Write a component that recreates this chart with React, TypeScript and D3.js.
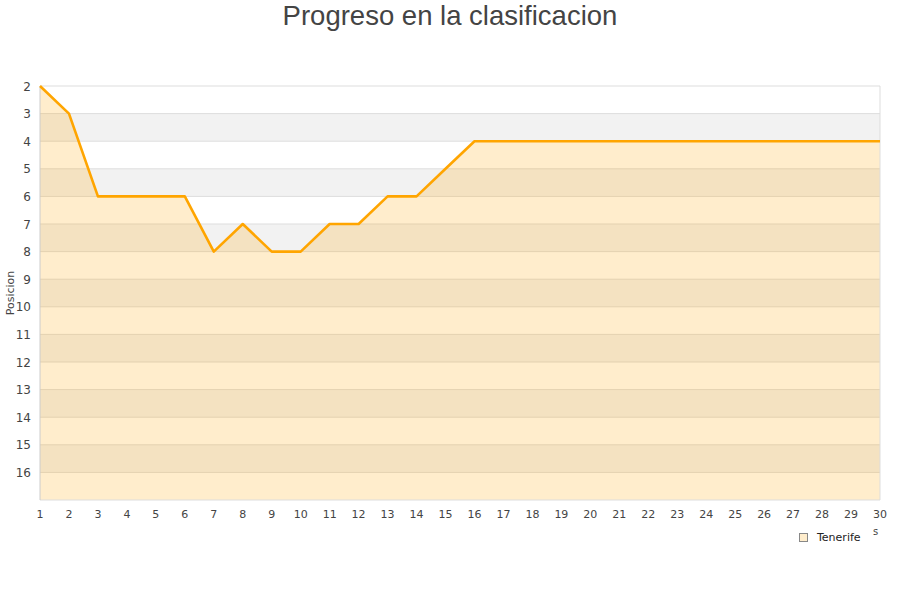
import React from "react";
import * as d3 from "d3";

const jornadas = d3.range(1, 31);
const posiciones = [2, 3, 6, 6, 6, 6, 8, 7, 8, 8, 7, 7, 6, 6, 5, 4, 4, 4, 4, 4, 4, 4, 4, 4, 4, 4, 4, 4, 4, 4];
const yTicks = d3.range(2, 17);
const equipo = "Tenerife";

const W = 900;
const H = 600;
const M = { left: 40, right: 880, top: 86, bottom: 500 };

export default function App() {
  const x = d3.scaleLinear().domain([1, 30]).range([M.left, M.right]);
  const y = d3.scaleLinear().domain([2, 17]).range([M.top, M.bottom]);
  const pts: [number, number][] = jornadas.map((j, i) => [j, posiciones[i]]);
  const line = d3.line<[number, number]>().x((d) => x(d[0])).y((d) => y(d[1]));
  const area = d3
    .area<[number, number]>()
    .x((d) => x(d[0]))
    .y0(y(17))
    .y1((d) => y(d[1]));
  const bands = d3.range(2, 17);
  const font = "DejaVu Sans, sans-serif";

  return (
    <svg width={W} height={H} style={{ position: "absolute", left: 0, top: 0 }}>
      <rect x={0} y={0} width={W} height={H} fill="#fff" />
      <text x={450} y={25} textAnchor="middle" fontFamily="Liberation Sans, Arial, sans-serif" fontSize={27.5} fill="#444">
        Progreso en la clasificacion
      </text>
      {bands.map((b) => (
        <rect
          key={b}
          x={M.left}
          y={y(b)}
          width={M.right - M.left}
          height={y(b + 1) - y(b)}
          fill={b % 2 === 1 ? "#f2f2f2" : "#ffffff"}
        />
      ))}
      {yTicks.map((t) => (
        <line key={t} x1={M.left} x2={M.right} y1={y(t)} y2={y(t)} stroke="#dddddd" strokeWidth={1} />
      ))}
      <path d={area(pts) || ""} fill="#ffa500" fillOpacity={0.2} />
      <line x1={M.left} x2={M.right} y1={M.bottom} y2={M.bottom} stroke="#dddddd" />
      <line x1={M.right} x2={M.right} y1={M.top} y2={M.bottom} stroke="#dddddd" />
      <line x1={M.left} x2={M.left} y1={M.top} y2={M.bottom} stroke="#cccccc" />
      <path d={line(pts) || ""} fill="none" stroke="#ffa500" strokeWidth={2.6} strokeLinejoin="round" />
      {yTicks.map((t) => (
        <text key={t} x={31} y={y(t) + 4.5} textAnchor="end" fontFamily={font} fontSize={12} fill="#444">
          {t}
        </text>
      ))}
      {jornadas.map((j) => (
        <text key={j} x={x(j)} y={518} textAnchor="middle" fontFamily={font} fontSize={11} fill="#444">
          {j}
        </text>
      ))}
      <text
        transform={`translate(14, ${(M.top + M.bottom) / 2}) rotate(-90)`}
        textAnchor="middle"
        fontFamily={font}
        fontSize={11}
        fill="#444"
      >
        Posicion
      </text>
      <text x={873} y={535} fontFamily={font} fontSize={10} fill="#444">
        s
      </text>
      <rect x={799.5} y={533.5} width={8} height={8} fill="#ffedcc" stroke="#888" strokeWidth={1} />
      <text x={817} y={541} fontFamily={font} fontSize={11} fill="#222">
        {equipo}
      </text>
    </svg>
  );
}
